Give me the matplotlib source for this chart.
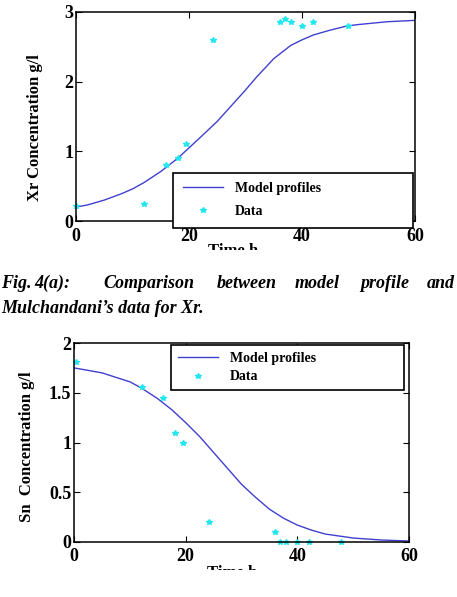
import numpy as np
import matplotlib
matplotlib.use("Agg")
import matplotlib.pyplot as plt
from matplotlib.patches import Rectangle

# =============================
# Données
# =============================
# Xr : courbe du modèle
xr_t_model = [0, 2, 5, 8, 10, 12, 15, 18, 20, 22, 25, 28, 30, 32, 35, 38, 40, 42, 45, 48, 50, 55, 60]
xr_model = [0.20, 0.23, 0.30, 0.39, 0.46, 0.55, 0.71, 0.90, 1.05, 1.20, 1.43, 1.70, 1.88, 2.07,
            2.33, 2.52, 2.60, 2.67, 2.74, 2.80, 2.82, 2.86, 2.88]
# Xr : données de Mulchandani
xr_t_data = [0, 12, 16, 18, 19.5, 24.2, 36.1, 37.0, 38.0, 40.0, 42.0, 48.1]
xr_data = [0.21, 0.25, 0.80, 0.90, 1.11, 2.60, 2.85, 2.90, 2.85, 2.80, 2.85, 2.80]

# Sn : courbe du modèle
sn_t_model = [0, 5, 10, 12, 15, 17.5, 20, 22.5, 25, 27.5, 30, 32.5, 35, 37.5, 40, 42.5, 45,
              47.5, 50, 55, 60]
sn_model = [1.75, 1.70, 1.61, 1.55, 1.44, 1.33, 1.20, 1.06, 0.90, 0.74, 0.58, 0.45, 0.33,
            0.24, 0.17, 0.12, 0.08, 0.06, 0.04, 0.02, 0.01]
# Sn : données
sn_t_data = [0.3, 12.1, 16.0, 18.0, 19.5, 24.1, 36.0, 36.9, 37.9, 39.9, 42.0, 47.9]
sn_data = [1.81, 1.56, 1.45, 1.10, 1.00, 0.20, 0.10, 0.0, 0.0, 0.0, 0.0, 0.0]

x_ticks = [0, 20, 40, 60]
xr_ticks = [0, 1, 2, 3]
sn_ticks = [0, 0.5, 1, 1.5, 2]
sn_ticklabels = ["0", "0.5", "1", "1.5", "2"]

# =============================
# Style
# =============================
plt.rcParams["font.family"] = ["Liberation Serif", "DejaVu Serif"]
plt.rcParams["font.weight"] = "bold"

W, H = 457, 597
fig = plt.figure(figsize=(W / 100, H / 100), dpi=100)

LINE_COLOR = "#4040d0"
DATA_COLOR = "#22e6f0"


def px_axes(left, top, right, bottom):
    return fig.add_axes([left / W, 1 - bottom / H, (right - left) / W, (bottom - top) / H])


def style_axes(ax, yticks, yticklabels, ylim, xpad):
    ax.set_xlim(0, 60)
    ax.set_ylim(*ylim)
    ax.set_xticks(x_ticks)
    ax.set_xticklabels([str(t) for t in x_ticks])
    ax.set_yticks(yticks)
    ax.set_yticklabels(yticklabels)
    ax.tick_params(direction="in", top=True, right=True, length=4, width=0.8,
                   labelsize=13, pad=2)
    ax.tick_params(axis="x", pad=xpad)
    for lab in ax.get_xticklabels() + ax.get_yticklabels():
        lab.set_fontweight("bold")
    for sp in ax.spines.values():
        sp.set_linewidth(1.1)
        sp.set_color("black")


# =============================
# Graphique Xr
# =============================
ax1 = px_axes(76, 12, 415, 221)
ax1.plot(xr_t_model, xr_model, color=LINE_COLOR, lw=1.0, label="Model profiles")
ax1.plot(xr_t_data, xr_data, ls="none", marker="*", ms=3.8, color=DATA_COLOR,
         clip_on=False, label="Data")
style_axes(ax1, xr_ticks, [str(t) for t in xr_ticks], (0, 3), xpad=5)
ax1.set_ylabel("Xr Concentration g/l", fontsize=12, fontweight="bold")
ax1.yaxis.set_label_coords(-0.097, 0.445)
leg1 = ax1.legend(loc="upper left", bbox_to_anchor=(0.286, 0.132, 0.708, 0.1), mode="expand",
                  prop={"weight": "bold", "size": 10}, numpoints=1,
                  handlelength=2.9, handletextpad=0.85, labelspacing=0.7,
                  borderpad=0.7, borderaxespad=0, fancybox=False, framealpha=1,
                  edgecolor="black")
leg1.get_frame().set_linewidth(1.2)

# =============================
# Graphique Sn
# =============================
ax2 = px_axes(74, 343, 409, 542)
ax2.plot(sn_t_model, sn_model, color=LINE_COLOR, lw=1.0, label="Model profiles")
ax2.plot(sn_t_data, sn_data, ls="none", marker="*", ms=3.8, color=DATA_COLOR,
         clip_on=False, label="Data")
style_axes(ax2, sn_ticks, sn_ticklabels, (0, 2), xpad=4)
ax2.set_ylabel("Sn  Concentration g/l", fontsize=12, fontweight="bold")
ax2.yaxis.set_label_coords(-0.116, 0.477)
leg2 = ax2.legend(loc="upper left", bbox_to_anchor=(0.290, 0.98, 0.695, 0.01), mode="expand",
                  prop={"weight": "bold", "size": 10}, numpoints=1,
                  handlelength=2.9, handletextpad=0.85, labelspacing=0.4,
                  borderpad=0.5, borderaxespad=0, fancybox=False, framealpha=1,
                  edgecolor="black")
leg2.get_frame().set_linewidth(1.2)

# Étiquettes "Time h" coupées dans la figure d'origine
fig.text(233 / W, 1 - 243 / H, "Time h", ha="center", va="top", fontsize=12, fontweight="bold")
fig.text(232 / W, 1 - 565 / H, "Time h", ha="center", va="top", fontsize=12, fontweight="bold")
fig.add_artist(Rectangle((0, 1 - 262 / H), 1, 12 / H, transform=fig.transFigure,
                         facecolor="white", edgecolor="none", zorder=10))
fig.add_artist(Rectangle((0, 0), 1, 1 - 570 / H, transform=fig.transFigure,
                         facecolor="white", edgecolor="none", zorder=10))

# =============================
# Légende de la figure (texte justifié)
# =============================
cap_words = [("Fig.", 1), ("4(a):", 34), ("Comparison", 103), ("between", 217),
             ("model", 295), ("profile", 360)]
for word, xp in cap_words:
    fig.text(xp / W, 1 - 288 / H, word, ha="left", va="baseline", fontsize=13,
             fontweight="bold", fontstyle="italic")
fig.text(455 / W, 1 - 288 / H, "and", ha="right", va="baseline", fontsize=13,
         fontweight="bold", fontstyle="italic")
fig.text(1 / W, 1 - 313 / H, "Mulchandani’s data for Xr.", ha="left", va="baseline",
         fontsize=13, fontweight="bold", fontstyle="italic")

fig.savefig("out.png", dpi=100)
